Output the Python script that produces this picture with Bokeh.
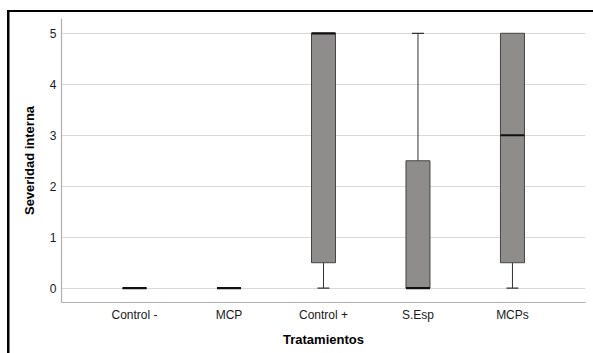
from bokeh.plotting import figure
from bokeh.models import Range1d, FixedTicker
from bokeh.embed import file_html
from bokeh.resources import INLINE

categories = ["Control -", "MCP", "Control +", "S.Esp", "MCPs"]
lower = [0, 0, 0, 0, 0]
q1 = [0, 0, 0.5, 0, 0.5]
median = [0, 0, 5, 0, 3]
q3 = [0, 0, 5, 2.5, 5]
upper = [0, 0, 5, 5, 5]
y_ticks = [0, 1, 2, 3, 4, 5]

FONT = "Liberation Sans"
xs = list(range(1, len(categories) + 1))
BOX_W = 0.254
CAP_W = 0.127

p = figure(x_range=Range1d(0.227, 5.773), y_range=Range1d(-0.28, 5.29),
           width=593, height=353, output_backend="svg", toolbar_location=None,
           min_border_left=61, min_border_right=8, min_border_top=18, min_border_bottom=51)

# transparent canvas so the page-level frame (outer black border) shows through
p.border_fill_color = None
p.background_fill_color = None
p.styles = {
    "background": ("linear-gradient(#000, #000) 7px 10px / 2.5px 400px no-repeat, "
                   "linear-gradient(#000, #000) 7px 10px / 700px 2px no-repeat, #ffffff"),
}

p.outline_line_color = None
p.xgrid.grid_line_color = None
p.ygrid.grid_line_color = "#d9d9d9"
p.ygrid.grid_line_width = 1.2
p.yaxis.ticker = FixedTicker(ticks=y_ticks)
p.xaxis.ticker = FixedTicker(ticks=xs)
p.xaxis.major_label_overrides = {x: c for x, c in zip(xs, categories)}

for ax in (p.xaxis, p.yaxis):
    ax.axis_line_color = "#b0b0b0"
    ax.axis_line_width = 1.2
    ax.major_tick_line_color = None
    ax.minor_tick_line_color = None
    ax.major_tick_out = 0
    ax.major_tick_in = 0
    ax.major_label_text_font = FONT
    ax.major_label_text_font_size = "12px"
    ax.major_label_text_color = "#1a1a1a"
    ax.axis_label_text_font = FONT
    ax.axis_label_text_font_size = "13px"
    ax.axis_label_text_font_style = "bold"
    ax.axis_label_text_color = "#000000"

p.xaxis.axis_label = "Tratamientos"
p.yaxis.axis_label = "Severidad interna"
p.xaxis.major_label_standoff = 5
p.xaxis.axis_label_standoff = 7
p.yaxis.major_label_standoff = 5
p.yaxis.axis_label_standoff = 10

# lower whiskers and caps
lw = [(x, lo, a) for x, lo, a in zip(xs, lower, q1) if a > lo]
p.segment(x0=[t[0] for t in lw], x1=[t[0] for t in lw],
          y0=[t[1] for t in lw], y1=[t[2] for t in lw],
          line_color="#333333", line_width=1)
p.segment(x0=[t[0] - CAP_W / 2 for t in lw], x1=[t[0] + CAP_W / 2 for t in lw],
          y0=[t[1] for t in lw], y1=[t[1] for t in lw],
          line_color="#333333", line_width=1.3)

# upper whiskers and caps
uw = [(x, hi, b) for x, hi, b in zip(xs, upper, q3) if hi > b]
p.segment(x0=[t[0] for t in uw], x1=[t[0] for t in uw],
          y0=[t[2] for t in uw], y1=[t[1] for t in uw],
          line_color="#333333", line_width=1)
p.segment(x0=[t[0] - CAP_W / 2 for t in uw], x1=[t[0] + CAP_W / 2 for t in uw],
          y0=[t[1] for t in uw], y1=[t[1] for t in uw],
          line_color="#333333", line_width=1.3)

# boxes
p.vbar(x=xs, bottom=q1, top=q3, width=BOX_W,
       fill_color="#8f8c8c", line_color="#444444", line_width=1)

# medians
p.segment(x0=[x - BOX_W / 2 for x in xs], x1=[x + BOX_W / 2 for x in xs],
          y0=median, y1=median, line_color="#111111", line_width=2.2)

open("out.html", "w").write(file_html(p, INLINE))
